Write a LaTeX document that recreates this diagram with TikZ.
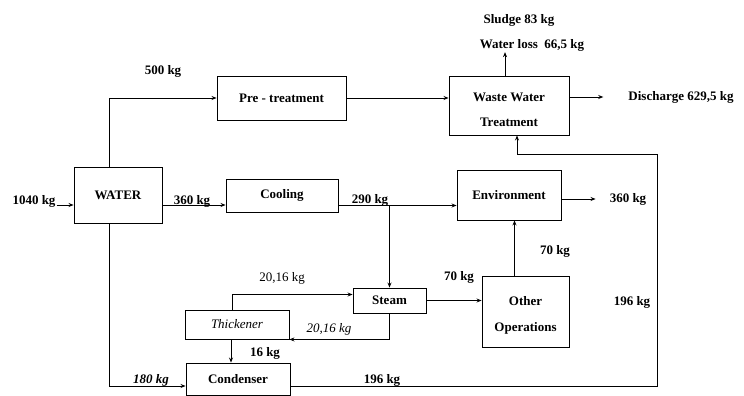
\documentclass[tikz,border=0pt]{standalone}
\usepackage{fontspec}
\setmainfont{Liberation Serif}
\usetikzlibrary{arrows.meta}
\usetikzlibrary{positioning}

\begin{document}
\begin{tikzpicture}[>={Stealth[length=5pt,width=4pt]}, x=1pt, y=-1pt,
    every node/.style={font=\fontsize{13}{25}\selectfont\bfseries},
    box/.style={draw, line width=0.9pt, inner sep=0pt, align=center},
    flow/.style={->, line width=0.8pt},
    kg/.style={inner sep=1pt}]
  \useasboundingbox (0,0) rectangle (744,396);

  % Prozesseinheiten
  \node[box, minimum width=88pt, minimum height=56pt] (water) at (118,195) {WATER};
  \node[box, minimum width=129pt, minimum height=44pt] (pre) at (281.5,98) {Pre - treatment};
  \node[box, minimum width=112pt, minimum height=33pt] (cool) at (282,195.5) {Cooling};
  \node[box, minimum width=120pt, minimum height=59pt] (wwt) at (509,105.5) {\rule{0pt}{17pt}Waste Water\\Treatment};
  \node[box, minimum width=104pt, minimum height=50pt] (env) at (509,195) {Environment};
  \node[box, minimum width=73pt, minimum height=25pt] (steam) at (389.5,300.5) {Steam};
  \node[box, minimum width=87pt, minimum height=71pt, font=\fontsize{13}{26}\selectfont\bfseries] (other) at (525.5,311.5) {\rule{0pt}{17pt}Other\\Operations};
  \node[box, minimum width=104pt, minimum height=29pt, font=\fontsize{13}{15}\selectfont\itshape] (thick) at (237,324.5) {Thickener};
  \node[box, minimum width=104pt, minimum height=32pt] (cond) at (238,379) {Condenser};

  % Mengenangaben
  \node[kg] (in) at (34,201) {1040 kg};
  \node[kg] (m500) at (163,71) {500 kg};
  \node[kg] (m360) at (192,201) {360 kg};
  \node[kg] (m290) at (370,200) {290 kg};
  \node[kg] (out) at (628,199) {360 kg};
  \node[kg] (disch) at (681,97) {Discharge 629,5 kg};
  \node[kg] (loss) at (532,45) {Water loss~~66,5 kg};
  \node[kg] (sludge) at (519,20) {Sludge 83 kg};
  \node[kg] (m196r) at (632,302) {196 kg};
  \node[kg] (m196b) at (382,380) {196 kg};
  \node[kg] (m70a) at (459,277) {70 kg};
  \node[kg] (m70b) at (555,251) {70 kg};
  \node[kg, font=\fontsize{13}{15}\selectfont] (m20a) at (282,278) {20,16 kg};
  \node[kg, font=\fontsize{13}{15}\selectfont\itshape] (m20b) at (329,329) {20,16 kg};
  \node[kg] (m16) at (265,353) {16 kg};
  \node[kg, font=\fontsize{13}{15}\selectfont\bfseries\itshape] (m180) at (151,380) {180 kg};

  % Hilfspunkte
  \coordinate (wL) at ([yshift=-10pt]water.west);
  \coordinate (wE) at ([yshift=-10pt]water.east);
  \coordinate (wN) at ([xshift=-9pt]water.north);
  \coordinate (wS) at ([xshift=-9pt]water.south);
  \coordinate (cE) at ([yshift=-10pt]cool.east);
  \coordinate (tN) at ([xshift=-5pt]thick.north);
  \coordinate (tS) at ([xshift=-6pt]thick.south);
  \coordinate (sW) at ([yshift=6pt]steam.west);
  \coordinate (oN) at ([xshift=-11pt]other.north);
  \coordinate (dW) at ([yshift=-7pt]cond.west);
  \coordinate (dE) at ([yshift=-7pt]cond.east);
  \coordinate (tN2) at ([xshift=-4pt]wwt.north);
  \coordinate (tB) at ([xshift=8pt]wwt.south);
  \coordinate (rt) at (657,154);

  % Stroeme
  \draw[flow] (in.east |- wL) -- (wL);
  \draw[flow] (wE) -- (wE -| cool.west);
  \draw[flow] (wN) |- (pre.west);
  \draw[flow] (pre.east) -- (pre.east -| wwt.west);
  \draw[flow, shorten >=24pt] (wwt.east |- disch) -- (disch.west);
  \draw[flow] (tN2) -- (tN2 |- loss.south);
  \draw[flow] (cE) -- (cE -| env.west);
  \draw[flow] (cE -| steam.north) -- (steam.north);
  \draw[flow, shorten >=13pt] (env.east |- out) -- (out.west);
  \draw[flow] (steam.east) -- (steam.east -| other.west);
  \draw[flow] (oN) -- (oN |- env.south);
  \draw[flow] (tN) |- (sW);
  \draw[flow] (steam.south) |- (thick.south east);
  \draw[flow] (tS) -- (tS |- cond.north);
  \draw[flow] (wS) |- (dW);
  \draw[flow] (dE) -| (rt) -| (tB);
\end{tikzpicture}
\end{document}
